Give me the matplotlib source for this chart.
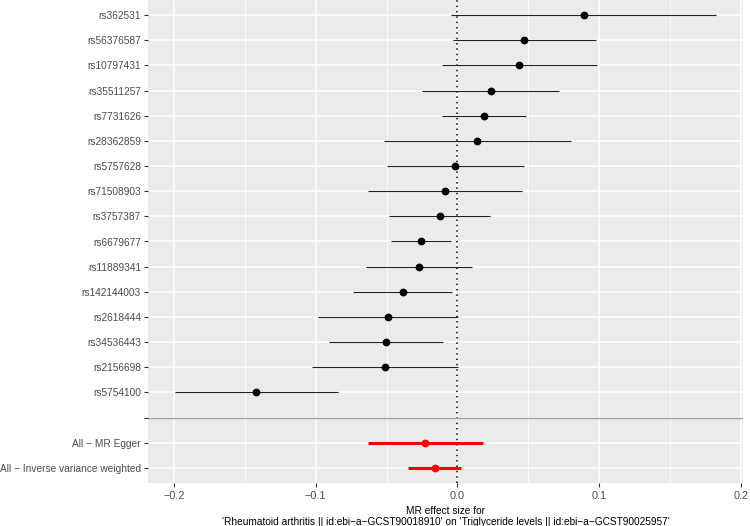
import numpy as np
import matplotlib.pyplot as plt

plt.rcParams['font.family'] = ['Liberation Sans', 'DejaVu Sans']

snps = ['rs362531', 'rs56376587', 'rs10797431', 'rs35511257', 'rs7731626',
        'rs28362859', 'rs5757628', 'rs71508903', 'rs3757387', 'rs6679677',
        'rs11889341', 'rs142144003', 'rs2618444', 'rs34536443', 'rs2156698',
        'rs5754100']
snp_b = [0.0889, 0.0470, 0.0437, 0.0235, 0.0186, 0.0139, -0.0016, -0.0089,
         -0.0125, -0.0256, -0.0273, -0.0383, -0.0489, -0.0506, -0.0510, -0.1421]
snp_lo = [-0.0045, -0.0033, -0.0106, -0.0247, -0.0111, -0.0520, -0.0499, -0.0633,
          -0.0480, -0.0466, -0.0644, -0.0734, -0.0986, -0.0908, -0.1026, -0.1993]
snp_up = [0.1826, 0.0974, 0.0986, 0.0717, 0.0485, 0.0800, 0.0466, 0.0456,
          0.0231, -0.0047, 0.0101, -0.0038, 0.0007, -0.0101, 0.0007, -0.0845]

methods = ['All \u2212 MR Egger', 'All \u2212 Inverse variance weighted']
meth_b = [-0.0226, -0.0162]
meth_lo = [-0.0633, -0.0351]
meth_up = [0.0183, 0.0026]

labels = snps + [''] + methods
ypos = np.arange(len(labels))
y_snp = ypos[:len(snps)]
y_blank = len(snps)
y_meth = ypos[len(snps) + 1:]

fig = plt.figure(figsize=(7.5, 5.26), dpi=100)
ax = fig.add_axes([148 / 750, 1 - 483 / 526, 595 / 750, 483 / 526])
ax.set_facecolor('#EBEBEB')

ax.set_xlim(-0.2183, 0.2014)
ax.set_ylim(len(labels) - 1 + 0.6, -0.6)

xt = [-0.2, -0.1, 0.0, 0.1, 0.2]
ax.set_xticks(xt)
ax.set_xticklabels(['\u22120.2', '\u22120.1', '0.0', '0.1', '0.2'])
ax.set_xticks([-0.15, -0.05, 0.05, 0.15], minor=True)
ax.set_yticks(ypos)
ax.set_yticklabels(labels)

for v in xt:
    ax.axvline(v, color='white', lw=1.1, zorder=0)
for v in [-0.15, -0.05, 0.05, 0.15]:
    ax.axvline(v, color='white', lw=0.55, zorder=0)
for y in ypos:
    ax.axhline(y, color='white', lw=1.1, zorder=0)

ax.axvline(0, color='black', lw=1.1, ls=(0, (1, 2.5)), zorder=1)
ax.axhline(y_blank, color='#A3A3A3', lw=1.0, zorder=1)

ax.hlines(y_snp, snp_lo, snp_up, color='#222222', lw=0.8, zorder=2)
ax.plot(snp_b, y_snp, 'o', color='black', ms=4.6, zorder=3)
ax.hlines(y_meth, meth_lo, meth_up, color='#FF0000', lw=2.2, zorder=2)
ax.plot(meth_b, y_meth, 'o', color='#FF0000', ms=4.6, zorder=3)

for s in ax.spines.values():
    s.set_visible(False)
ax.tick_params(axis='both', which='major', length=3, width=0.8, color='#333333',
               labelsize=7.3, labelcolor='#4D4D4D', pad=2)
ax.tick_params(axis='x', which='major', labelsize=7.8, pad=3)
ax.tick_params(axis='both', which='minor', length=0)

ax.set_xlabel("MR effect size for\n'Rheumatoid arthritis || id:ebi\u2212a\u2212GCST90018910' on "
              "'Triglyceride levels || id:ebi\u2212a\u2212GCST90025957'",
              fontsize=7.3, color='black', labelpad=3, linespacing=1.15)

fig.savefig('out.png', dpi=100)
